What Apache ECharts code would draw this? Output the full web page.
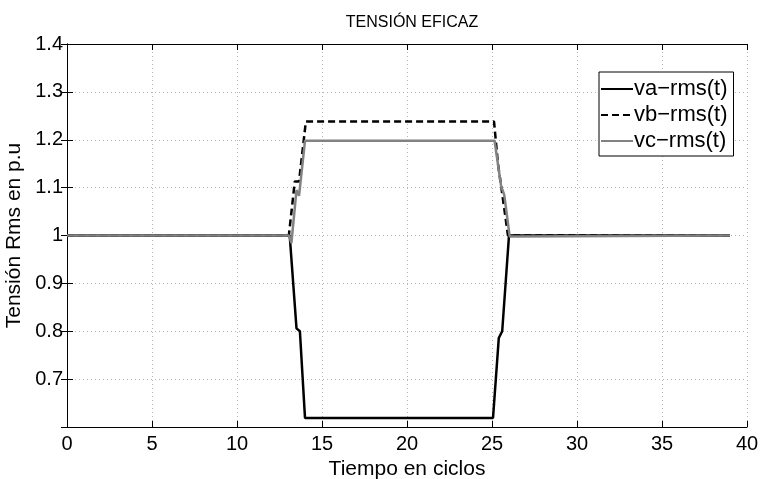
<!DOCTYPE html>
<html>
<head>
<meta charset="utf-8">
<script src="https://cdn.jsdelivr.net/npm/echarts@6/dist/echarts.min.js"></script>
<style>
  html, body { margin: 0; padding: 0; background: #fff; }
  #chart { width: 762px; height: 479px; }
</style>
</head>
<body>
<div id="chart"></div>
<script>
// tension eficaz - va / vb / vc rms (p.u) vs ciclos
const vaX = [0, 13.1, 13.5, 13.7, 14.0, 25.06, 25.4, 25.6, 26.0, 39];
const vaY = [1.0, 1.0, 0.806, 0.80, 0.619, 0.619, 0.786, 0.80, 1.0, 1.0];

const vbX = [0, 13.05, 13.4, 13.65, 14.05, 25.12, 25.35, 25.55, 25.94, 39];
const vbY = [1.0, 1.0, 1.113, 1.113, 1.238, 1.238, 1.15, 1.10, 1.0, 1.0];

const vcX = [0, 13.06, 13.2, 13.5, 13.65, 14.0, 25.15, 25.55, 25.62, 25.72, 26.04, 39];
const vcY = [1.0, 1.0, 0.984, 1.095, 1.083, 1.198, 1.198, 1.10, 1.095, 1.085, 0.998, 1.0];

const xTicks = [0, 5, 10, 15, 20, 25, 30, 35, 40];
const yTicks = [0.6, 0.7, 0.8, 0.9, 1.0, 1.1, 1.2, 1.3, 1.4];

function pairs(xs, ys) {
  const out = [];
  for (let i = 0; i < xs.length; i++) {
    out.push([xs[i], ys[i]]);
  }
  return out;
}

const font = 'Liberation Sans';
const chart = echarts.init(document.getElementById('chart'));

const gridLine = {
  show: true,
  lineStyle: { color: '#b4b4b4', width: 1, type: [1, 3] }
};

chart.setOption({
  animation: false,
  backgroundColor: '#fff',
  title: {
    text: 'TENSIÓN EFICAZ',
    left: 407,
    top: 10,
    textAlign: 'center',
    textStyle: { fontFamily: font, fontSize: 16, fontWeight: 'normal', color: '#000' }
  },
  legend: {
    orient: 'vertical',
    left: 599,
    top: 72,
    data: ['va−rms(t)', 'vb−rms(t)', 'vc−rms(t)'],
    itemWidth: 32,
    itemHeight: 10,
    itemGap: 4,
    padding: [6, 6, 4, 1],
    borderColor: '#000',
    borderWidth: 1,
    backgroundColor: '#fff',
    itemStyle: { opacity: 0 },
    textStyle: { fontFamily: font, fontSize: 22, color: '#000', padding: [0, 0, 0, -4] }
  },
  grid: { left: 67, right: 15, top: 44, bottom: 52, outerBoundsMode: 'none' },
  xAxis: [
    {
      type: 'value',
      min: 0,
      max: 40,
      interval: 5,
      name: 'Tiempo en ciclos',
      nameLocation: 'middle',
      nameGap: 25,
      nameTextStyle: { fontFamily: font, fontSize: 21, color: '#000' },
      axisLine: { lineStyle: { color: '#000', width: 1 } },
      axisTick: { inside: true, length: 6, lineStyle: { color: '#000' } },
      axisLabel: { fontFamily: font, fontSize: 20, color: '#000', margin: 7 },
      splitLine: gridLine
    },
    {
      type: 'value',
      position: 'top',
      min: 0,
      max: 40,
      interval: 5,
      axisLine: { lineStyle: { color: '#000', width: 1 } },
      axisTick: { inside: true, length: 6, lineStyle: { color: '#000' } },
      axisLabel: { show: false },
      splitLine: { show: false }
    }
  ],
  yAxis: [
    {
      type: 'value',
      min: 0.6,
      max: 1.4,
      interval: 0.1,
      name: 'Tensión Rms en p.u',
      nameLocation: 'middle',
      nameGap: 41,
      nameTextStyle: { fontFamily: font, fontSize: 21, color: '#000' },
      axisLine: { show: true, lineStyle: { color: '#000', width: 1 } },
      axisTick: { show: true, inside: true, length: 6, lineStyle: { color: '#000' } },
      axisLabel: {
        fontFamily: font,
        fontSize: 20,
        color: '#000',
        margin: 4,
        showMinLabel: false,
        formatter: function (v) {
          return String(Math.round(v * 10) / 10);
        }
      },
      splitLine: gridLine
    },
    {
      type: 'value',
      position: 'right',
      min: 0.6,
      max: 1.4,
      interval: 0.1,
      axisLine: { show: true, lineStyle: { color: '#000', width: 1 } },
      axisTick: { show: true, inside: true, length: 6, lineStyle: { color: '#000' } },
      axisLabel: { show: false },
      splitLine: { show: false }
    }
  ],
  series: [
    {
      name: 'va−rms(t)',
      type: 'line',
      data: pairs(vaX, vaY),
      showSymbol: false,
      symbol: 'none',
      lineStyle: { color: '#000', width: 2.5, type: 'solid' },
      itemStyle: { color: '#000' },
      z: 2
    },
    {
      name: 'vb−rms(t)',
      type: 'line',
      data: pairs(vbX, vbY),
      showSymbol: false,
      symbol: 'none',
      lineStyle: { color: '#000', width: 2.5, type: [7, 4] },
      itemStyle: { color: '#000' },
      z: 3
    },
    {
      name: 'vc−rms(t)',
      type: 'line',
      data: pairs(vcX, vcY),
      showSymbol: false,
      symbol: 'none',
      lineStyle: { color: '#828282', width: 2.5, type: 'solid' },
      itemStyle: { color: '#828282' },
      z: 4
    }
  ]
});

window.addEventListener('resize', function () {
  chart.resize();
});
</script>
</body>
</html>
